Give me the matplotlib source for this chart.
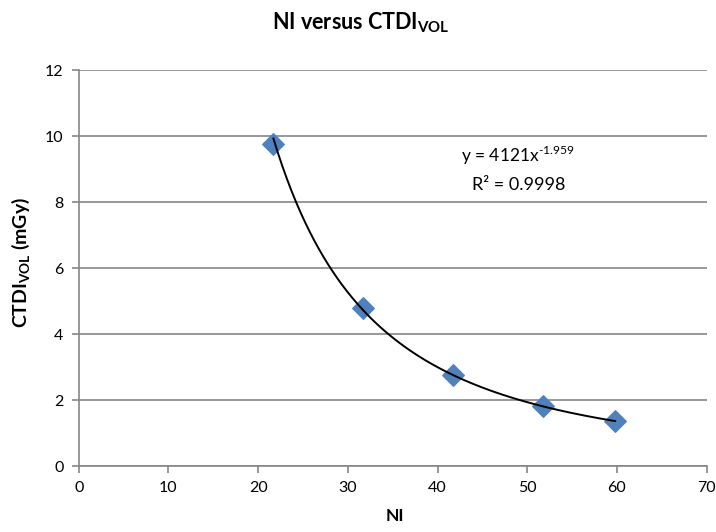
import numpy as np
import matplotlib
matplotlib.use("Agg")
import matplotlib.pyplot as plt

plt.rcParams['font.family'] = ['Lato', 'DejaVu Sans']
plt.rcParams['mathtext.fontset'] = 'custom'
plt.rcParams['mathtext.rm'] = 'Lato'
plt.rcParams['mathtext.bf'] = 'Lato:bold'

# Data
ni = [21.7, 31.7, 41.7, 51.7, 59.8]
ctdi = [9.77, 4.80, 2.75, 1.82, 1.37]
fit_a = 4121
fit_b = -1.959
r2_text = "0.9998"
x_ticks = [0, 10, 20, 30, 40, 50, 60, 70]
y_ticks = [0, 2, 4, 6, 8, 10, 12]

fig = plt.figure(figsize=(7.16, 5.32), dpi=100)
ax = fig.add_axes([0.110, 0.124, 0.877, 0.744])

grid_c = '#868686'
ax.set_xlim(0, 70)
ax.set_ylim(0, 12)
ax.set_xticks(x_ticks)
ax.set_yticks(y_ticks)
ax.yaxis.grid(True, color=grid_c, linewidth=1.2)
ax.set_axisbelow(True)
for s in ['top', 'right']:
    ax.spines[s].set_visible(False)
for s in ['left', 'bottom']:
    ax.spines[s].set_color(grid_c)
    ax.spines[s].set_linewidth(1.2)
ax.tick_params(axis='both', direction='out', length=5, color=grid_c, width=1.2,
               labelsize=11.5, pad=6)

# Trendline
xs = np.linspace(min(ni), max(ni), 300)
ax.plot(xs, fit_a * xs ** fit_b, color='black', linewidth=1.4, zorder=3)

ax.scatter(ni, ctdi, marker='D', s=120, color='#4F81BD', edgecolors='#4F81BD',
           zorder=2)

eq = r"y = %dx$^{\mathrm{\text{-}%.3f}}$" % (fit_a, abs(fit_b))
ax.text(0.70, 0.785, eq, transform=ax.transAxes,
        ha='center', va='center', fontsize=12.5)
ax.text(0.70, 0.71, "R² = " + r2_text, transform=ax.transAxes,
        ha='center', va='center', fontsize=13)

fig.text(0.504, 1 - 29 / 532, r"NI versus CTDI$_{\mathbf{VOL}}$", fontsize=15.5,
         fontweight='bold', ha='center', va='baseline')
fig.text(395 / 716, 1 - 516 / 532, "NI", fontsize=12.5, fontweight='bold',
         ha='center', va='center')
fig.text(21 / 716, 1 - 262 / 532, r"CTDI$_{\mathbf{VOL}}$ (mGy)", fontsize=14,
         fontweight='bold', ha='center', va='center', rotation=90)

fig.savefig("out.png", dpi=100)
